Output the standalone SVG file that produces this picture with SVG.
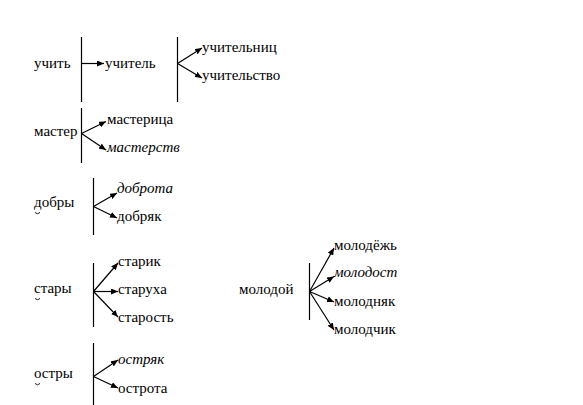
<svg xmlns="http://www.w3.org/2000/svg" width="583" height="405" viewBox="0 0 583 405">
<defs>
<marker id="ah" markerWidth="7" markerHeight="6" refX="7" refY="3" orient="auto" markerUnits="userSpaceOnUse">
<path d="M0,0 L7,3 L0,6 z" fill="#000"/>
</marker>
<style>
text{font-family:"Liberation Serif","Times New Roman",serif;font-size:15px;fill:#000}
.it{font-style:italic}
.bar{stroke:#000;stroke-width:1.2;fill:none}
.arr{stroke:#000;stroke-width:1.2;fill:none;marker-end:url(#ah)}
.br{stroke:#000;stroke-width:0.9;fill:none}
</style>
</defs>
<rect width="583" height="405" fill="#fff"/>
<g id="bars">
<line class="bar" x1="81.5" y1="37" x2="81.5" y2="102"/>
<line class="bar" x1="177.5" y1="37" x2="177.5" y2="102"/>
<line class="bar" x1="81.5" y1="108" x2="81.5" y2="163"/>
<line class="bar" x1="93.5" y1="178" x2="93.5" y2="235"/>
<line class="bar" x1="93.5" y1="263" x2="93.5" y2="327"/>
<line class="bar" x1="309.5" y1="263" x2="309.5" y2="320"/>
<line class="bar" x1="93.5" y1="343" x2="93.5" y2="405"/>
</g>
<g id="connectors">
<line class="arr" x1="81.5" y1="63.5" x2="104" y2="63.5"/>
<line class="arr" x1="177.5" y1="63.5" x2="202" y2="48"/>
<line class="arr" x1="177.5" y1="63.5" x2="202" y2="78"/>
<line class="arr" x1="81.5" y1="133.5" x2="106" y2="121.5"/>
<line class="arr" x1="81.5" y1="133.5" x2="106" y2="150"/>
<line class="arr" x1="93.5" y1="206.5" x2="117" y2="193"/>
<line class="arr" x1="93.5" y1="206.5" x2="117" y2="218"/>
<line class="arr" x1="93.5" y1="291.5" x2="118" y2="263"/>
<line class="arr" x1="93.5" y1="291.5" x2="118" y2="291.5"/>
<line class="arr" x1="93.5" y1="291.5" x2="118" y2="317"/>
<line class="arr" x1="309.5" y1="291.5" x2="334" y2="248"/>
<line class="arr" x1="309.5" y1="291.5" x2="334" y2="276.5"/>
<line class="arr" x1="309.5" y1="291.5" x2="334" y2="302"/>
<line class="arr" x1="309.5" y1="291.5" x2="334" y2="330"/>
<line class="arr" x1="93.5" y1="376.5" x2="118" y2="360"/>
<line class="arr" x1="93.5" y1="376.5" x2="118" y2="388"/>
</g>
<g id="n-uchit"><text x="34" y="67.5">учить</text></g>
<g id="n-uchitel"><text x="105" y="67.5">учитель</text></g>
<g id="n-uchitelnic"><text x="202" y="51.5">учительниц</text></g>
<g id="n-uchitelstvo"><text x="202" y="79.5">учительство</text></g>
<g id="n-master"><text x="34" y="135.5">мастер</text></g>
<g id="n-masterica"><text x="107" y="123.5">мастерица</text></g>
<g id="n-masterstv"><text class="it" x="107" y="151.5">мастерств</text></g>
<g id="n-dobry"><text x="34" y="206.5">добры</text><path class="br" d="M35,212.5 q2.5,2.5 5,0"/></g>
<g id="n-dobrota"><text class="it" x="117" y="192.5">доброта</text></g>
<g id="n-dobryak"><text x="117" y="220.5">добряк</text></g>
<g id="n-stary"><text x="34" y="292.5">стары</text><path class="br" d="M35,298.5 q2.5,2.5 5,0"/></g>
<g id="n-starik"><text x="118" y="265.5">старик</text></g>
<g id="n-staruha"><text x="118" y="293.5">старуха</text></g>
<g id="n-starost"><text x="118" y="321.5">старость</text></g>
<g id="n-molodoy"><text x="239" y="293.5">молодой</text></g>
<g id="n-molodezh"><text x="334" y="249.5">молодёжь</text></g>
<g id="n-molodost"><text class="it" x="334" y="276.5">молодост</text></g>
<g id="n-molodnyak"><text x="334" y="305.5">молодняк</text></g>
<g id="n-molodchik"><text x="334" y="333.5">молодчик</text></g>
<g id="n-ostry"><text x="34" y="377.5">остры</text><path class="br" d="M35,383.5 q2.5,2.5 5,0"/></g>
<g id="n-ostryak"><text class="it" x="118" y="363.5">остряк</text></g>
<g id="n-ostrota"><text x="118" y="392.5">острота</text></g>
</svg>
